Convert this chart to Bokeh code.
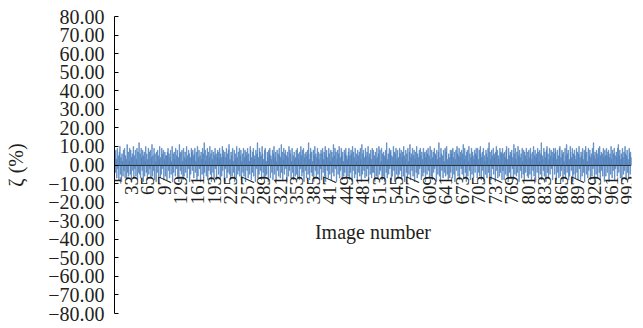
from bokeh.plotting import figure
from bokeh.models import FixedTicker, CustomJSTickFormatter, ColumnDataSource, Range1d
from bokeh.embed import file_html
from bokeh.resources import INLINE
import math

zeta = [
6, -4, 8, 3, -7, 9, -2, 5, -8, 7, 10, -5, 4, -9, 6, 2, -6, 8, -3, 9, -7, 5, 3, -8, 11, -4, 7, -6, 2, 9, -5, 8, -9, 4, 6, -3, 10, -7, 5, -2, 8, -6, 3, 9, -8, 7, -4, 12, -5, 6,
-7, 9, 4, -3, 8, -9, 5, 7, -6, 2, 10, -4, 6, -8, 3, 9, -5, 7, -2, 8, -7, 4, 11, -6, 5, -3, 9, -8, 6, 2, -9, 7, -4, 8, 5, -6, 3, 10, -7, 4, -5, 9, 6, -2, 8, -8, 3, 7, -6, 5,
5, -8, 7, 9, -3, 6, -7, 4, 8, -5, 2, 10, -9, 6, -4, 7, 3, -6, 9, -2, 5, 8, -7, 4, -9, 11, 6, -3, 7, -5, 8, 2, -8, 9, -6, 4, 7, -4, 3, 10, -7, 5, -2, 8, 6, -9, 4, -5, 9, 7,
-3, 8, 5, -7, 6, 9, -4, 2, 7, -8, 10, -6, 4, 8, -2, 5, -9, 7, 3, -5, 9, 6, -7, 12, -4, 8, 2, -6, 5, 9, -8, 7, -3, 4, 10, -5, 6, -9, 8, 3, -4, 7, -7, 5, 9, -2, 6, -8, 4, 8,
7, -5, 3, 9, -8, 6, 4, -6, 10, -3, 8, 5, -9, 7, -2, 4, 9, -7, 6, -4, 8, 11, -5, 3, -8, 7, 5, -6, 9, 2, -4, 8, -9, 6, 3, -7, 10, 4, -5, 7, -3, 9, -6, 5, 8, -8, 2, 6, -4, 9,
-6, 4, 8, -9, 7, 5, -3, 9, -7, 6, 2, -5, 10, 8, -8, 4, -4, 7, 9, -6, 3, 5, -9, 8, -2, 6, 12, -7, 4, -5, 9, 7, -3, 5, -8, 10, 6, -4, 3, -7, 8, 9, -6, 2, -5, 7, 4, -9, 8, 6,
9, -7, 5, 3, -4, 8, -8, 6, 10, -5, 4, 7, -9, 2, 8, -3, 6, -6, 9, 5, -7, 4, 11, -4, 7, -8, 3, 9, -5, 6, 8, -2, 5, -9, 7, 4, -6, 10, -3, 8, 6, -7, 2, 9, -4, 5, -8, 7, 3, -6,
4, 8, -5, 9, -7, 6, 3, -8, 7, -2, 10, 5, -6, 8, -4, 9, -9, 4, 6, -3, 7, -7, 5, 8, -5, 12, 3, -8, 6, 9, -4, 7, -6, 2, 8, -9, 5, 10, -3, 6, -7, 4, 9, -5, 7, 3, -8, 6, -2, 8,
-8, 6, 9, -4, 3, 7, -6, 10, -9, 5, 8, -3, 4, -7, 9, 6, -5, 2, 8, -8, 7, 4, -4, 11, -6, 5, 9, -2, 7, -9, 3, 8, -5, 6, 10, -7, 4, -3, 9, 5, -8, 7, 2, -6, 8, -4, 6, 9, -7, 5,
3, -6, 7, 9, -8, 5, -4, 8, 6, -9, 10, -3, 7, 4, -7, 9, -5, 6, 2, -8, 8, 5, -4, 7, -6, 9, 3, -9, 11, -5, 6, 8, -3, 4, -7, 9, 5, -6, 7, -2, 10, -8, 4, 6, -5, 8, 3, -7, 9, -4,
8, -4, 5, -9, 7, 3, -6, 9, 4, -7, 6, 10, -5, 8, -3, 2, 9, -8, 6, -6, 7, 5, -9, 4, 8, -4, 12, -7, 3, 6, -5, 9, -2, 7, 8, -8, 5, -6, 4, 10, -3, 7, -9, 6, 9, -5, 3, 8, -7, 4,
-5, 9, 6, -3, 8, -8, 4, 7, -6, 10, 5, -9, 3, 8, -4, 6, -7, 9, 2, -5, 7, 11, -8, 4, 6, -3, 9, -6, 5, 8, -9, 3, 7, -4, 10, -7, 6, 4, -5, 8, -2, 9, 5, -8, 7, 3, -6, 9, -4, 6,
7, -9, 4, 8, -5, 6, 9, -3, 5, -7, 10, 3, -6, 8, -8, 4, 7, -4, 9, -2, 6, 5, -9, 8, 3, -5, 7, 12, -6, 4, -8, 9, 6, -3, 5, -7, 8, 2, -4, 9, -6, 7, 10, -5, 3, -8, 6, 4, -7, 8,
-4, 6, 8, -7, 9, 4, -5, 7, -9, 3, 8, -3, 10, 6, -6, 5, 9, -8, 4, 7, -2, 8, -5, 6, 11, -7, 3, 9, -4, 5, -9, 7, 8, -6, 2, 10, -3, 6, -8, 4, 9, -5, 7, 5, -7, 3, 8, -4, 6, 9,
5, -7, 9, 3, -4, 8, -6, 10, 6, -8, 4, 7, -3, 9, -9, 5, 2, -5, 8, 6, -7, 4, 9, -4, 12, -6, 7, 3, -8, 8, 5, -2, 9, -5, 6, 4, -9, 7, 10, -3, 8, -7, 5, 3, -6, 9, -4, 7, 6, -8,
9, -3, 6, -8, 7, 4, -5, 8, 10, -6, 3, -9, 9, 5, -4, 7, -7, 6, 8, -2, 4, -8, 11, 6, -5, 9, 3, -6, 7, -4, 10, 5, -9, 8, 4, -3, 6, -7, 9, 2, -5, 8, -8, 7, 5, -4, 9, 3, -6, 7,
-7, 8, 4, -5, 9, 6, -8, 3, 7, -3, 10, -6, 5, 8, -9, 4, 6, -4, 9, 7, -7, 2, 8, -5, 6, 12, -8, 5, 3, -3, 9, -6, 7, 4, -9, 8, 10, -4, 6, -7, 3, 9, -5, 5, 8, -2, 7, -8, 4, 9,
6, -5, 9, 7, -8, 3, 8, -4, 5, -7, 9, 10, -6, 4, -3, 8, 6, -9, 7, 2, -5, 9, -7, 5, 11, -4, 6, 8, -8, 3, -6, 10, 7, -3, 4, 9, -9, 6, -5, 8, 5, -7, 3, 9, -4, 7, -8, 6, 10, -2,
4, -8, 7, 5, -6, 9, 3, -4, 8, -9, 6, 10, -5, 7, 2, -7, 9, -3, 5, 8, -8, 4, 6, -6, 9, -2, 12, 5, -9, 7, 3, -5, 8, 6, -7, 4, 9, -4, 10, -8, 5, 7, -3, 6, -6, 9, 4, -9, 8, 5,
-6, 9, 5, -4, 7, 8, -9, 4, 6, -5, 10, 3, -7, 8, -3, 6, 9, -8, 5, -2, 7, 4, -6, 9, 11, -4, 5, 8, -7, 3, 6, -9, 9, 4, -5, 7, -3, 10, 6, -8, 5, 8, -4, 3, -7, 9, 6, -5, 7, 4,
]
image_number = list(range(1, len(zeta) + 1))
x_tick_values = list(range(1, len(zeta) + 1, 32))
y_tick_values = list(range(-80, 81, 10))

FONT = "Liberation Serif"
TEXT = "#231f20"
BAR = "#4F81BD"

src = ColumnDataSource(dict(x=image_number, top=zeta))

p = figure(width=643, height=328, output_backend="svg", toolbar_location=None,
           x_range=Range1d(0.5, len(zeta) + 0.5), y_range=Range1d(-80, 80),
           min_border_left=114, min_border_right=12, min_border_top=16, min_border_bottom=15)
p.outline_line_color = None
p.grid.visible = False
p.background_fill_color = "white"

p.vbar(x="x", top="top", bottom=0, width=1.0, source=src,
       fill_color=BAR, line_color=BAR, line_width=0.6)

xa = p.xaxis[0]
xa.fixed_location = 0
xa.ticker = FixedTicker(ticks=x_tick_values)
xa.major_label_orientation = math.pi / 2
xa.major_label_text_font = FONT
xa.major_label_text_font_size = "19px"
xa.major_label_text_color = TEXT
xa.major_label_standoff = 11
xa.major_tick_in = 0
xa.major_tick_out = 0
xa.minor_tick_line_color = None
xa.axis_line_color = "#333333"
xa.axis_label = "Image number"
xa.axis_label_text_font = FONT
xa.axis_label_text_font_size = "20px"
xa.axis_label_text_font_style = "normal"
xa.axis_label_text_color = TEXT
xa.axis_label_standoff = 13

ya = p.yaxis[0]
ya.ticker = FixedTicker(ticks=y_tick_values)
ya.formatter = CustomJSTickFormatter(code="""
return (tick < 0 ? "\\u2212" : "") + Math.abs(tick).toFixed(2);
""")
ya.major_label_text_font = FONT
ya.major_label_text_font_size = "20px"
ya.major_label_text_color = TEXT
ya.major_label_standoff = 10
ya.major_tick_in = 4
ya.major_tick_out = 0
ya.minor_tick_line_color = None
ya.axis_line_color = "black"
ya.major_tick_line_color = "black"
ya.axis_label = "ζ (%)"
ya.axis_label_text_font = FONT
ya.axis_label_text_font_size = "20px"
ya.axis_label_text_font_style = "normal"
ya.axis_label_text_color = TEXT
ya.axis_label_standoff = 18

open("out.html", "w").write(file_html(p, INLINE))
